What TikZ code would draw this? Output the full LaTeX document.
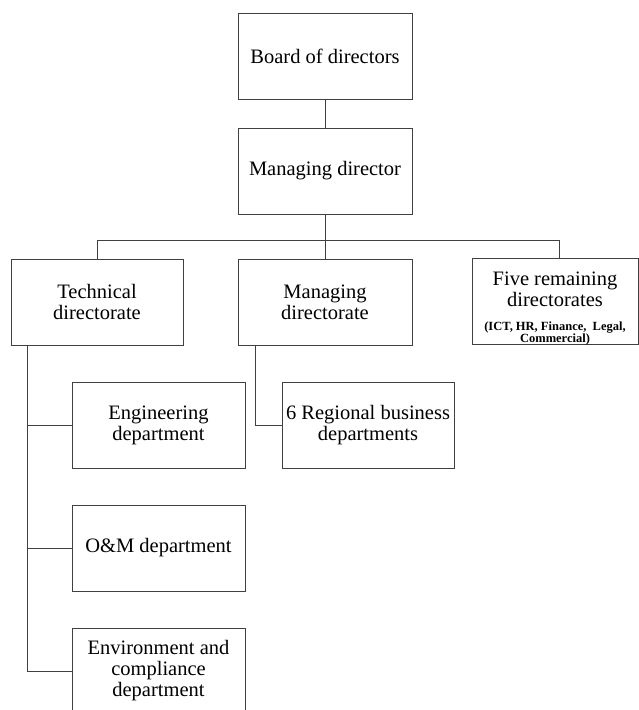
\documentclass[tikz,border=0pt]{standalone}
\usepackage{fontspec}
\setmainfont{Liberation Serif}
\newcommand\detailfont{\fontsize{12.5}{10}\selectfont\bfseries}
\begin{document}
\begin{tikzpicture}[x=1pt,y=-1pt,
    box/.style={draw=black!75, line width=1pt, minimum width=174pt, minimum height=86pt,
        align=center, inner sep=2pt, font=\fontsize{20.5}{21}\selectfont},
    link/.style={draw=black!75, line width=1pt}]
    \useasboundingbox (0,0) rectangle (638,710);

    % Top of the chart
    \node[box] (board) at (325,56) {Board of directors};
    \node[box] (md) at (325,171) {Managing director};

    % Directorates
    \node[box, minimum width=172pt] (tech) at (97,302) {Technical\\directorate};
    \node[box] (mgd) at (325,302) {Managing\\directorate};
    \node[box, minimum width=166pt] (five) at (555,301) {\raisebox{-12.5pt}[0pt][0pt]{%
        \begin{tabular}{@{}c@{}}Five remaining\\directorates\\[3pt]
        \detailfont\begin{tabular}[t]{@{}c@{}}(ICT, HR, Finance,\ \ Legal,\\Commercial)\end{tabular}
        \end{tabular}}};

    % Departments
    \node[box, minimum width=173pt] (eng) at (158.5,425) {Engineering\\department};
    \node[box, minimum width=172pt] (reg) at (368,425) {6 Regional business\\departments};
    \node[box, minimum width=173pt] (om) at (158.5,548) {O\&M department};
    \node[box, minimum width=173pt] (env) at (158.5,671) {Environment and\\compliance\\department};

    % Lines
    \draw[link] (board) -- (md);
    \draw[link] (md) -- (mgd);
    \draw[link] (tech.north) -- ++(0,-18) -| ([xshift=4pt]five.north);

    \coordinate (tspine) at ([xshift=17pt]tech.south west);
    \draw[link] (tspine) |- (env.west);
    \draw[link] (tspine |- eng.west) -- (eng.west);
    \draw[link] (tspine |- om.west) -- (om.west);
    \draw[link] ([xshift=18pt]mgd.south west) |- (reg.west);

\end{tikzpicture}
\end{document}
